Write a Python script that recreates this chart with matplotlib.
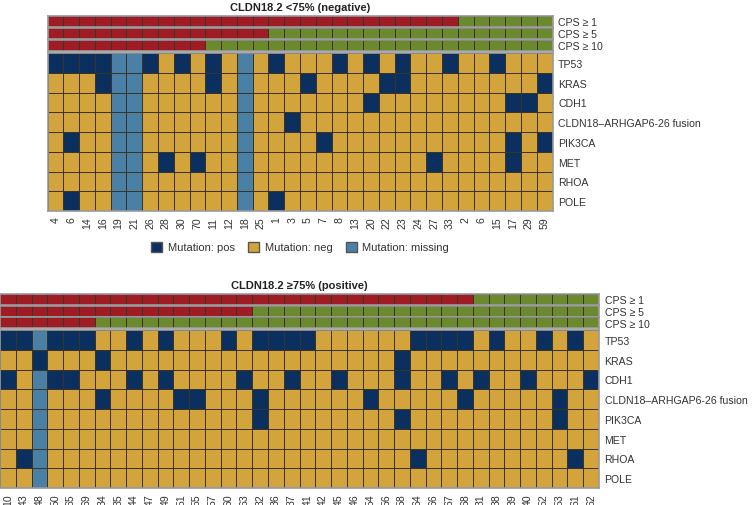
import numpy as np
import matplotlib.pyplot as plt
from matplotlib.colors import ListedColormap
from matplotlib.patches import Patch

plt.rcParams['font.family'] = ['Liberation Sans', 'DejaVu Sans']

# 0 = neg, 1 = pos, 2 = missing
genes = ['TP53', 'KRAS', 'CDH1', 'CLDN18–ARHGAP6-26 fusion', 'PIK3CA', 'MET', 'RHOA', 'POLE']
cps_labels = ['CPS ≥ 1', 'CPS ≥ 5', 'CPS ≥ 10']

# CLDN18.2 <75% (negative)
neg_ids = ['4', '6', '14', '16', '19', '21', '26', '28', '30', '70', '11', '12', '18', '25', '1', '3',
           '5', '7', '8', '13', '20', '22', '23', '24', '27', '33', '2', '6', '15', '17', '29', '59']
neg_cps1 = [1,1,1,1,1,1,1,1,1,1,1,1,1,1,1,1,1,1,1,1,1,1,1,1,1,1,0,0,0,0,0,0]
neg_cps5 = [1,1,1,1,1,1,1,1,1,1,1,1,1,1,0,0,0,0,0,0,0,0,0,0,0,0,0,0,0,0,0,0]
neg_cps10 = [1,1,1,1,1,1,1,1,1,1,0,0,0,0,0,0,0,0,0,0,0,0,0,0,0,0,0,0,0,0,0,0]
neg_mut = [
    [1,1,1,1,2,2,1,0,1,0,1,0,2,0,1,0,0,0,1,0,1,0,1,0,0,1,0,0,1,0,0,0],  # TP53
    [0,0,0,1,2,2,0,0,0,0,1,0,2,0,0,0,1,0,0,0,0,1,1,0,0,0,0,0,0,0,0,1],  # KRAS
    [0,0,0,0,2,2,0,0,0,0,0,0,2,0,0,0,0,0,0,0,1,0,0,0,0,0,0,0,0,1,1,0],  # CDH1
    [0,0,0,0,2,2,0,0,0,0,0,0,2,0,0,1,0,0,0,0,0,0,0,0,0,0,0,0,0,0,0,0],  # fusion
    [0,1,0,0,2,2,0,0,0,0,0,0,2,0,0,0,0,1,0,0,0,0,0,0,0,0,0,0,0,1,0,1],  # PIK3CA
    [0,0,0,0,2,2,0,1,0,1,0,0,2,0,0,0,0,0,0,0,0,0,0,0,1,0,0,0,0,1,0,0],  # MET
    [0,0,0,0,2,2,0,0,0,0,0,0,2,0,0,0,0,0,0,0,0,0,0,0,0,0,0,0,0,0,0,0],  # RHOA
    [0,1,0,0,2,2,0,0,0,0,0,0,2,0,1,0,0,0,0,0,0,0,0,0,0,0,0,0,0,0,0,0],  # POLE
]

# CLDN18.2 >=75% (positive)
pos_ids = ['10', '43', '48', '50', '65', '69', '34', '35', '44', '47', '49', '51', '55', '57', '60', '63',
           '32', '36', '37', '41', '42', '45', '46', '54', '56', '58', '64', '66', '67', '68', '31', '38',
           '39', '40', '52', '53', '61', '62']
pos_cps1 = [1,1,1,1,1,1,1,1,1,1,1,1,1,1,1,1,1,1,1,1,1,1,1,1,1,1,1,1,1,1,0,0,0,0,0,0,0,0]
pos_cps5 = [1,1,1,1,1,1,1,1,1,1,1,1,1,1,1,1,0,0,0,0,0,0,0,0,0,0,0,0,0,0,0,0,0,0,0,0,0,0]
pos_cps10 = [1,1,1,1,1,1,0,0,0,0,0,0,0,0,0,0,0,0,0,0,0,0,0,0,0,0,0,0,0,0,0,0,0,0,0,0,0,0]
pos_mut = [
    [1,1,2,1,1,1,0,0,1,0,1,0,0,0,1,0,1,1,1,1,0,0,0,0,0,0,1,1,1,1,0,1,0,0,1,0,1,0],  # TP53
    [0,0,1,0,0,0,1,0,0,0,0,0,0,0,0,0,0,0,0,0,0,0,0,0,0,1,0,0,0,0,0,0,0,0,0,0,0,0],  # KRAS
    [1,0,2,1,1,0,0,0,1,0,1,0,0,0,0,1,0,0,1,0,0,1,0,0,0,1,0,0,1,0,1,0,0,1,0,0,0,1],  # CDH1
    [0,0,2,0,0,0,1,0,0,0,0,1,1,0,0,0,1,0,0,0,0,0,0,1,0,0,0,0,0,1,0,0,0,0,0,1,0,0],  # fusion
    [0,0,2,0,0,0,0,0,0,0,0,0,0,0,0,0,1,0,0,0,0,0,0,0,0,1,0,0,0,0,0,0,0,0,0,1,0,0],  # PIK3CA
    [0,0,2,0,0,0,0,0,0,0,0,0,0,0,0,0,0,0,0,0,0,0,0,0,0,0,0,0,0,0,0,0,0,0,0,0,0,0],  # MET
    [0,1,2,0,0,0,0,0,0,0,0,0,0,0,0,0,0,0,0,0,0,0,0,0,0,0,1,0,0,0,0,0,0,0,0,0,1,0],  # RHOA
    [0,0,2,0,0,0,0,0,0,0,0,0,0,0,0,0,0,0,0,0,0,0,0,0,0,0,0,0,0,0,0,0,0,0,0,0,0,0],  # POLE
]

NEG_C, POS_C, MISS_C = '#D4A43C', '#0B2F5F', '#4A7FA6'
RED, GREEN = '#A01C24', '#6B8A2E'
EDGE = '#3b3424'
mut_cmap = ListedColormap([NEG_C, POS_C, MISS_C])
cps_cmap = ListedColormap([GREEN, RED])
FS = 7.6

W, H = 753, 506
fig = plt.figure(figsize=(W / 100, H / 100), dpi=100)


def px_axes(x0, y0, x1, y1):
    return fig.add_axes([x0 / W, 1 - y1 / H, (x1 - x0) / W, (y1 - y0) / H])


def panel(title, ids, cps_rows, mut, x0, x1, bar_tops, bar_h, hm_top, hm_bot):
    n = len(ids)
    for row, top, lab in zip(cps_rows, bar_tops, cps_labels):
        ax = px_axes(x0, top, x1, top + bar_h)
        ax.pcolormesh(np.array([row]), cmap=cps_cmap, vmin=0, vmax=1,
                      edgecolors=EDGE, linewidth=0.5)
        ax.set_xlim(0, n)
        ax.set_ylim(0, 1)
        ax.set_xticks([])
        ax.set_yticks([0.5])
        ax.set_yticklabels([lab], fontsize=FS, color='#333333')
        ax.yaxis.tick_right()
        ax.tick_params(axis='y', length=0, pad=4)
        for s in ax.spines.values():
            s.set_color('#9a9a9a')
            s.set_linewidth(1.2)
    ax = px_axes(x0, hm_top, x1, hm_bot)
    ax.pcolormesh(np.array(mut), cmap=mut_cmap, vmin=-0.5, vmax=2.5,
                  edgecolors=EDGE, linewidth=0.7)
    ax.set_xlim(0, n)
    ax.set_ylim(len(genes), 0)
    ax.set_xticks(np.arange(n) + 0.5)
    ax.set_xticklabels(ids, rotation=90, fontsize=FS, color='#333333')
    ax.set_yticks(np.arange(len(genes)) + 0.5)
    ax.set_yticklabels(genes, fontsize=FS, color='#333333')
    ax.yaxis.tick_right()
    ax.tick_params(length=0, pad=4)
    for s in ax.spines.values():
        s.set_color('#9a9a9a')
        s.set_linewidth(1.2)
    fig.text((x0 + x1) / 2 / W, 1 - (bar_tops[0] - 9) / H, title, ha='center', va='center',
             fontsize=8, fontweight='bold', color='#222222')


panel('CLDN18.2 <75% (negative)', neg_ids, [neg_cps1, neg_cps5, neg_cps10], neg_mut,
      47.5, 552.5, [17, 29, 41], 11, 54, 212)
panel('CLDN18.2 ≥75% (positive)', pos_ids, [pos_cps1, pos_cps5, pos_cps10], pos_mut,
      0, 599, [295, 306.5, 318], 11, 331, 489)

handles = [Patch(facecolor=POS_C, edgecolor='#555555', label='Mutation: pos'),
           Patch(facecolor=NEG_C, edgecolor='#555555', label='Mutation: neg'),
           Patch(facecolor=MISS_C, edgecolor='#555555', label='Mutation: missing')]
fig.legend(handles=handles, loc='center', bbox_to_anchor=(300 / W, 1 - 248 / H), ncol=3,
           frameon=False, fontsize=8, handlelength=1.0, handleheight=1.0,
           handletextpad=0.5, columnspacing=1.2, labelcolor='#333333')

fig.savefig('out.png', dpi=100)
